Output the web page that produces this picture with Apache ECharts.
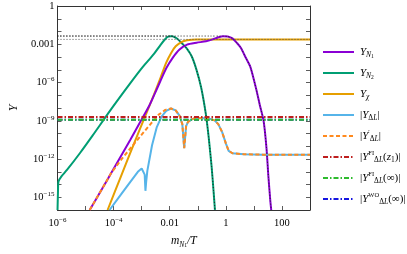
<!DOCTYPE html>
<html><head><meta charset="utf-8">
<script src="https://cdn.jsdelivr.net/npm/echarts@6/dist/echarts.min.js"></script>
<style>html,body{margin:0;padding:0;background:#fff}#c{width:407px;height:254px}</style>
</head><body><div id="c"></div>
<script>
// ---- data: [m_N1/T, Y] pairs ----
const yN1 = [[1.4e-5,1e-16],[3.84e-5,4.4e-15],[8.3e-5,8.3e-14],[1.81e-4,1.66e-12],[3.94e-4,3.2e-11],[8.55e-4,7.0e-10],[1.86e-3,1.5e-8],[2.96e-3,1.4e-7],[4.72e-3,1.4e-6],[7.5e-3,1.3e-5],[0.0129,9.0e-5],[0.0223,3.9e-4],[0.0414,9.3e-4],[0.09,1.32e-3],[0.195,1.7e-3],[0.337,2.4e-3],[0.537,3.5e-3],[0.791,4.3e-3],[1.17,4.1e-3],[1.72,2.9e-3],[2.54,1.2e-3],[3.46,5.1e-4],[5.09,9.1e-5],[7.52,1.62e-5],[12.0,3.2e-7],[16.3,1.66e-8],[22.3,8.9e-10],[28.1,7.2e-12],[32.9,4.2e-14],[38.4,5.6e-16],[41.5,1e-16]];
const yN2 = [[1e-6,1e-16],[1.04e-6,3.2e-15],[1.08e-6,1.74e-14],[1.36e-6,4.2e-14],[2.17e-6,1.38e-13],[6.44e-6,3.1e-12],[1.77e-5,6.8e-11],[8.3e-5,8.5e-9],[3.94e-4,8.9e-7],[1.08e-3,1.6e-5],[2.74e-3,1.78e-4],[4.72e-3,9.1e-4],[6.95e-3,2.6e-3],[8.77e-3,3.9e-3],[0.0111,4.3e-3],[0.0129,4.1e-3],[0.019,2.6e-3],[0.0281,1.1e-3],[0.0414,4.4e-4],[0.0611,1.1e-4],[0.09,9.8e-6],[0.133,3.7e-7],[0.195,3.0e-9],[0.247,4.1e-11],[0.312,2.3e-13],[0.364,3.2e-15],[0.409,1e-16]];
const yChi = [[6.1e-5,1e-16],[1.81e-4,4.2e-14],[5.37e-4,1.7e-11],[1.36e-3,2.5e-9],[2.74e-3,1.1e-7],[4.72e-3,2.46e-6],[7.5e-3,3.6e-5],[0.0111,2.0e-4],[0.0163,6.9e-4],[0.026,1.47e-3],[0.0414,2.04e-3],[0.09,2.4e-3],[1000,2.4e-3]];
const yDL = [[7.14e-5,1e-16],[1.81e-4,1.58e-15],[3.94e-4,1.62e-14],[7.3e-4,9.8e-14],[1.0e-3,1.78e-13],[1.17e-3,1.51e-13],[1.28e-3,5.9e-14],[1.36e-3,3.2e-15],[1.45e-3,1.74e-14],[1.59e-3,1.17e-13],[2.34e-3,1.2e-11],[3.46e-3,3.2e-10],[5.1e-3,2.14e-9],[7.5e-3,6.0e-9],[0.0111,9.1e-9],[0.0163,6.5e-9],[0.0223,2.5e-9],[0.0281,5.4e-10],[0.0328,7.2e-12],[0.0384,3.8e-10],[0.0448,8.3e-10],[0.0713,1.5e-9],[0.133,1.63e-9],[0.247,1.5e-9],[0.394,1.07e-9],[0.537,5.4e-10],[0.733,1.35e-10],[1.0,1.7e-11],[1.26,4.4e-12],[1.72,2.82e-12],[4.37,2.36e-12],[20.6,2.2e-12],[1000,2.2e-12]];
const yDLp = [[1.4e-5,1e-16],[3.84e-5,4.4e-15],[8.3e-5,8.3e-14],[2.12e-4,1.29e-12],[4.6e-4,1.02e-11],[1.0e-3,8.1e-11],[2.17e-3,6.3e-10],[4.04e-3,3.0e-9],[6.95e-3,7.1e-9],[0.0111,9.1e-9],[0.0163,6.5e-9],[0.0223,2.5e-9],[0.0281,5.4e-10],[0.0328,7.2e-12],[0.0384,3.8e-10],[0.0448,8.3e-10],[0.0713,1.5e-9],[0.133,1.63e-9],[0.247,1.5e-9],[0.394,1.07e-9],[0.537,5.4e-10],[0.733,1.35e-10],[1.0,1.7e-11],[1.26,4.4e-12],[1.72,2.82e-12],[4.37,2.36e-12],[20.6,2.2e-12],[1000,2.2e-12]];
const yFIz1 = [[1e-6,1.95e-9],[1000,1.95e-9]];
const yFIinf = [[1e-6,1.2e-9],[1000,1.2e-9]];
const yWOinf = [[1e-6,1.2e-9],[1000,1.2e-9]];
const eqN1 = [[1e-6,4.4e-3],[0.3,4.4e-3],[0.6,4.35e-3],[0.791,4.3e-3],[1.17,4.1e-3],[1.72,2.9e-3],[2.54,1.2e-3],[3.46,5.1e-4],[5.09,9.1e-5],[7.52,1.62e-5],[12.0,3.2e-7],[16.3,1.66e-8],[22.3,8.9e-10],[28.1,7.2e-12],[32.9,4.2e-14],[38.4,5.6e-16],[41.5,1e-16]];
const eqN2 = [[1e-6,4.4e-3],[6e-3,4.4e-3],[8.77e-3,4.35e-3],[0.0111,4.3e-3],[0.0129,4.1e-3],[0.019,2.6e-3],[0.0281,1.1e-3],[0.0414,4.4e-4],[0.0611,1.1e-4],[0.09,9.8e-6],[0.133,3.7e-7],[0.195,3.0e-9],[0.247,4.1e-11],[0.312,2.3e-13],[0.364,3.2e-15],[0.409,1e-16]];
const eqChi = [[1e-6,2.4e-3],[1000,2.4e-3]];
// tick labels (by decade exponent)
const xTickLabels = {'-6':'{b|10}{p|−6}','-4':'{b|10}{p|−4}','-2':'{b|0.01}','0':'{b|1}','2':'{b|100}'};
const yTickLabels = {'0':'{b|1}','-3':'{b|0.001}','-6':'{b|10}{p|−6}','-9':'{b|10}{p|−9}','-12':'{b|10}{p|−12}','-15':'{b|10}{p|−15}'};
const legendNames = ['YN1','YN2','Ychi','YdL','YdLp','FIz1','FIinf','WOinf'];

const FONT = 'Liberation Serif';
const L = a => a.map(([x, y]) => [Math.log10(x), Math.log10(y)]);
const richBase = {
  b: {fontFamily: FONT, fontSize: 10.5, color: '#000', lineHeight: 13},
  p: {fontFamily: FONT, fontSize: 7, color: '#000', verticalAlign: 'top', lineHeight: 13}
};
const legendRich = {
  i: {fontFamily: FONT, fontSize: 11, fontStyle: 'italic', fill: '#000', lineHeight: 15},
  t: {fontFamily: FONT, fontSize: 11, fill: '#000', lineHeight: 15},
  s: {fontFamily: FONT, fontSize: 7.5, fontStyle: 'italic', fill: '#000', verticalAlign: 'bottom', lineHeight: 15},
  n: {fontFamily: FONT, fontSize: 7.5, fill: '#000', verticalAlign: 'bottom', lineHeight: 15},
  ss: {fontFamily: FONT, fontSize: 5.5, fill: '#000', verticalAlign: 'bottom', lineHeight: 13},
  sp: {fontFamily: FONT, fontSize: 6.5, fill: '#000', verticalAlign: 'top', lineHeight: 15}
};
const legendText = {
  YN1: '{i|Y}{s|N}{ss|1}',
  YN2: '{i|Y}{s|N}{ss|2}',
  Ychi: '{i|Y}{s|χ}',
  YdL: '{t||}{i|Y}{n|Δ}{s|L}{t||}',
  YdLp: '{t||}{i|Y}{sp|′}{n|Δ}{s|L}{t||}',
  FIz1: '{t||}{i|Y}{sp|FI}{n|Δ}{s|L}{t|(}{i|z}{n|1}{t|)|}',
  FIinf: '{t||}{i|Y}{sp|FI}{n|Δ}{s|L}{t|(∞)|}',
  WOinf: '{t||}{i|Y}{sp|WO}{n|Δ}{s|L}{t|(∞)|}'
};

const dashDot = [5, 2, 1.5, 2];
const styles = {
  YN1: {color: '#8A00D4', type: 'solid', width: 2},
  YN2: {color: '#009E73', type: 'solid', width: 2},
  Ychi: {color: '#E69F00', type: 'solid', width: 2},
  YdL: {color: '#56B4E9', type: 'solid', width: 2},
  YdLp: {color: '#FF8A1E', type: [4, 2.5], width: 2},
  FIz1: {color: '#BE1E1E', type: dashDot, width: 2},
  FIinf: {color: '#2DBB2D', type: dashDot, width: 2},
  WOinf: {color: '#1515E0', type: dashDot, width: 2},
  eq: {color: '#222', type: [1, 2], width: 1}
};
function ln(name, data, st, extra) {
  return Object.assign({
    name, type: 'line', data: L(data), symbol: 'none', showSymbol: false,
    lineStyle: {color: st.color, width: st.width, type: st.type}, itemStyle: {color: st.color},
    animation: false, silent: true
  }, extra || {});
}
const sm = {smooth: 0.25};
const series = [
  ln('WOinf', yWOinf, styles.WOinf),
  ln('YN2', yN2, styles.YN2, sm),
  ln('Ychi', yChi, styles.Ychi, sm),
  ln('YN1', yN1, styles.YN1, sm),
  ln('YdL', yDL, styles.YdL),
  ln('YdLp', yDLp, styles.YdLp),
  ln('FIz1', yFIz1, styles.FIz1),
  ln('FIinf', yFIinf, styles.FIinf),
  ln('eqN1', eqN1, styles.eq, sm),
  ln('eqN2', eqN2, styles.eq, sm),
  ln('eqChi', eqChi, Object.assign({}, styles.eq, {color: '#555'}))
];

// legend drawn as graphic elements (line sample + rich label)
const graphic = [];
legendNames.forEach((n, k) => {
  const cy = 52 + 21 * k, st = styles[n];
  graphic.push({type: 'line', silent: true, shape: {x1: 323, y1: cy, x2: 354, y2: cy},
    style: {stroke: st.color, lineWidth: st.width, lineDash: Array.isArray(st.type) ? st.type : null}});
  graphic.push({type: 'text', silent: true, x: 360, y: cy,
    style: {text: legendText[n], rich: legendRich, fontFamily: FONT, fontSize: 11, fill: '#000', verticalAlign: 'middle', align: 'left'}});
});

const axisCommon = {
  type: 'value', interval: 1,
  axisLine: {show: true, onZero: false, lineStyle: {color: '#333', width: 1}},
  axisTick: {show: true, inside: true, length: 4, lineStyle: {color: '#333', width: 0.8}},
  splitLine: {show: false}
};
const chart = echarts.init(document.getElementById('c'), null, {renderer: 'canvas'});
chart.setOption({
  backgroundColor: '#fff',
  animation: false,
  grid: {left: 43, right: 97, top: 6, bottom: 34, containLabel: false},
  xAxis: [
    Object.assign({}, axisCommon, {
      min: -6, max: 3, position: 'bottom',
      axisLabel: {margin: 7, formatter: v => xTickLabels[String(v)] || '', rich: richBase},
      name: '{i|m}{s|N}{ss|1}{i|/T}', nameLocation: 'middle', nameGap: 23,
      nameTextStyle: {rich: {
        i: {fontFamily: FONT, fontSize: 11.5, fontStyle: 'italic', color: '#000', lineHeight: 16},
        s: {fontFamily: FONT, fontSize: 7.5, fontStyle: 'italic', color: '#000', verticalAlign: 'bottom', lineHeight: 16},
        ss: {fontFamily: FONT, fontSize: 5.5, color: '#000', verticalAlign: 'bottom', lineHeight: 14}
      }}
    }),
    Object.assign({}, axisCommon, {min: -6, max: 3, position: 'top', axisLabel: {show: false}})
  ],
  yAxis: [
    Object.assign({}, axisCommon, {
      min: -16, max: 0, position: 'left',
      axisLabel: {margin: 3, formatter: v => yTickLabels[String(v)] || '', rich: richBase},
      name: 'Y', nameLocation: 'middle', nameGap: 33, nameRotate: 90,
      nameTextStyle: {fontFamily: FONT, fontSize: 12, fontStyle: 'italic', color: '#000'}
    }),
    Object.assign({}, axisCommon, {min: -16, max: 0, position: 'right', axisLabel: {show: false}})
  ],
  graphic,
  series
});
</script></body></html>
